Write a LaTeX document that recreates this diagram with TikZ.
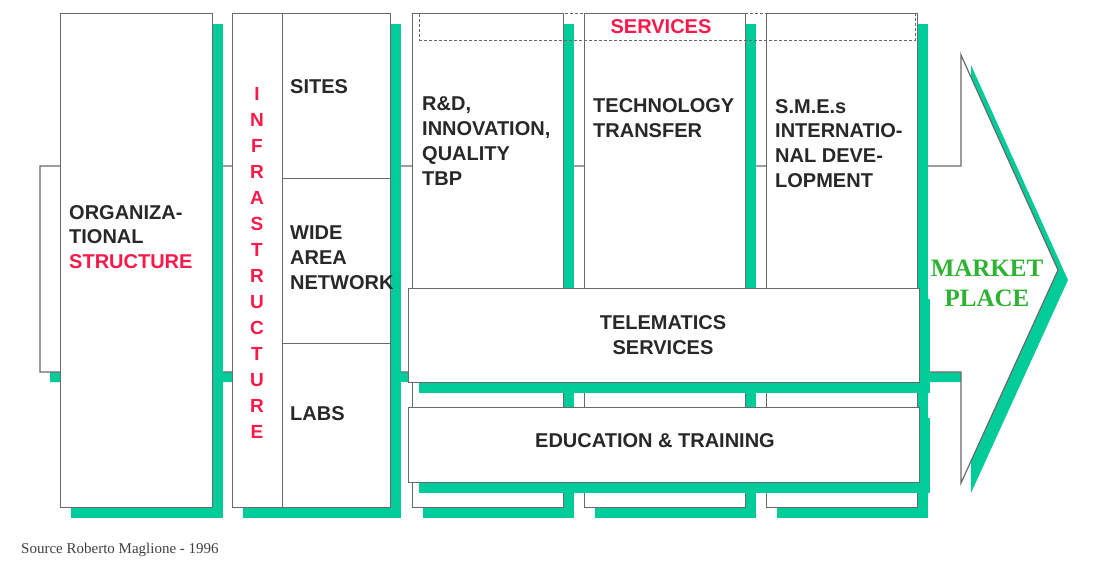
\documentclass[tikz,border=0pt]{standalone}
\usepackage{fontspec}
\setmainfont{Liberation Sans}
\newfontfamily\serifmkt{Liberation Serif}
\usetikzlibrary{shadows}

\definecolor{shadowgreen}{RGB}{0,204,153}
\definecolor{edgegray}{RGB}{105,105,105}
\definecolor{redlabel}{RGB}{250,25,75}
\definecolor{mktgreen}{RGB}{45,178,50}
\definecolor{inkgray}{RGB}{40,40,40}

\begin{document}
\begin{tikzpicture}[x=1pt, y=-1pt,
  greenshadow/.style={drop shadow={shadow xshift=10pt, shadow yshift=-10pt, opacity=1, fill=shadowgreen}},
  box/.style={draw=edgegray, line width=1.2pt, fill=white, inner sep=0pt, anchor=north west},
  lbl/.style={font=\fontsize{20}{24.8}\selectfont\bfseries, text=inkgray, align=left, inner sep=0pt, anchor=west}]
\useasboundingbox[fill=white] (0,0) rectangle (1098,560);

% the big arrow behind everything
\draw[draw=edgegray, line width=1.2pt, fill=white, greenshadow]
  (40,166) -- (961,166) -- (961,55) -- (1058,270) -- (961,483) -- (961,372) -- (40,372) -- cycle;

% organization and infrastructure
\node[box, greenshadow, minimum width=152, minimum height=494] (org) at (60,13) {};
\node[box, greenshadow, minimum width=158, minimum height=494] (infra) at (232,13) {};
\node[box, minimum width=108, minimum height=165] (sites) at (282,13) {};
\node[box, minimum width=108, minimum height=165] (wan) at (282,178) {};
\node[box, minimum width=108, minimum height=164] (labs) at (282,343) {};

% service columns
\node[box, greenshadow, minimum width=151, minimum height=494] (rd) at (412,13) {};
\node[box, greenshadow, minimum width=161, minimum height=494] (techtr) at (584,13) {};
\node[box, greenshadow, minimum width=151, minimum height=494] (sme) at (766,13) {};
\node[draw=edgegray, line width=0.9pt, dash pattern=on 3pt off 2pt, inner sep=0pt, anchor=north west,
  minimum width=496, minimum height=27] (services) at (419,13) {};

% horizontal layers
\node[box, greenshadow, minimum width=511, minimum height=94] (telem) at (408,288) {};
\node[box, greenshadow, minimum width=511, minimum height=75] (edu) at (408,407) {};

% labels
\node[lbl] (orgtxt) at (69,237) {ORGANIZA-\\TIONAL\\\textcolor{redlabel}{STRUCTURE}};
\node[font=\fontsize{19}{26}\selectfont\bfseries, text=redlabel, align=center, inner sep=0pt]
  (infratxt) at (257,263) {I\\N\\F\\R\\A\\S\\T\\R\\U\\C\\T\\U\\R\\E};
\node[lbl] (sitestxt) at (290,87) {SITES};
\node[lbl] (wantxt) at (290,258) {WIDE\\AREA\\NETWORK};
\node[lbl] (labstxt) at (290,414) {LABS};
\node[font=\fontsize{20}{24}\selectfont\bfseries, text=redlabel, inner sep=0pt] (servtxt) at (661,27) {SERVICES};
\node[lbl] (rdtxt) at (422,141) {R\&D,\\INNOVATION,\\QUALITY\\TBP};
\node[lbl] (techtxt) at (593,118.5) {TECHNOLOGY\\TRANSFER};
\node[lbl] (smetxt) at (775,143.5) {S.M.E.s\\INTERNATIO-\\NAL DEVE-\\LOPMENT};
\node[lbl, anchor=center, align=center] (telemtxt) at (663,335) {TELEMATICS\\SERVICES};
\node[lbl, anchor=center] (edutxt) at (655,441) {EDUCATION \& TRAINING};
\node[font=\serifmkt\bfseries\fontsize{25}{30}\selectfont, text=mktgreen, align=center, inner sep=0pt]
  (market) at (987,283) {MARKET\\PLACE};
\node[font=\serifmkt\fontsize{15}{18}\selectfont, text=black!75, anchor=west, inner sep=0pt]
  (source) at (21,550) {Source Roberto Maglione - 1996};
\end{tikzpicture}
\end{document}
